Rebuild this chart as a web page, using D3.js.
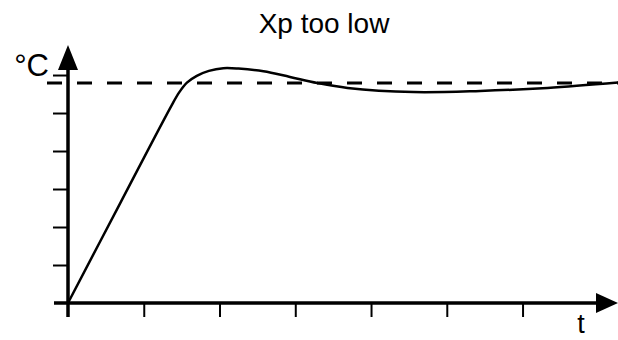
<!DOCTYPE html>
<html>
<head>
<meta charset="utf-8">
<script src="https://d3js.org/d3.v7.min.js"></script>
<style>
body{margin:0;background:#fff;}
text{font-family:Arial,"Liberation Sans",sans-serif;fill:#000;}
</style>
</head>
<body>
<svg></svg>
<script>
// response curve, t in tick units, temperature in tick units
var times = [0,0.70,1.37,1.47,1.57,1.70,1.86,2.05,2.25,2.58,2.93,3.29,3.69,4.56,5.44,6.33,7.26]
var temps = [0,2.67,5.21,5.55,5.80,5.98,6.11,6.18,6.17,6.10,5.95,5.79,5.66,5.55,5.58,5.66,5.80]
var setpoint = 5.79
var xTicks = [1,2,3,4,5,6]
var yTicks = [1,2,3,4,5,6]
var title = "Xp too low"
var yLabel = "°C"
var xLabel = "t"

var screen = {width:618,height:340}

var svg = d3.select("svg")
.attr("width",screen.width)
.attr("height",screen.height)

var xScale = d3.scaleLinear()
.domain([0,7.26])
.range([68,618])

var yScale = d3.scaleLinear()
.domain([0,6.79])
.range([303,45])

var drawAxes = function()
{
    svg.append("g")
    .attr("transform","translate(0,"+yScale(0)+")")
    .call(d3.axisBottom(xScale).tickValues(xTicks).tickSize(14).tickFormat(""))
    .call(function(g){g.select(".domain").remove()})
    .selectAll("line")
    .attr("stroke","#000")
    .attr("stroke-width",2)

    svg.append("g")
    .attr("transform","translate("+xScale(0)+",0)")
    .call(d3.axisLeft(yScale).tickValues(yTicks).tickSize(15).tickFormat(""))
    .call(function(g){g.select(".domain").remove()})
    .selectAll("line")
    .attr("stroke","#000")
    .attr("stroke-width",2)

    // main axis lines
    svg.append("line")
    .attr("x1",54).attr("x2",598)
    .attr("y1",yScale(0)).attr("y2",yScale(0))
    .attr("stroke","#000").attr("stroke-width",3.5)

    svg.append("line")
    .attr("x1",xScale(0)).attr("x2",xScale(0))
    .attr("y1",317).attr("y2",68)
    .attr("stroke","#000").attr("stroke-width",3.5)

    // arrow heads
    var x0 = xScale(0), y0 = yScale(0)
    svg.append("path")
    .attr("d","M"+(x0-10)+",70 L"+x0+",45 L"+(x0+10)+",70 Z")
    .attr("fill","#000")
    svg.append("path")
    .attr("d","M596,"+(y0-10)+" L618,"+y0+" L596,"+(y0+10)+" Z")
    .attr("fill","#000")
}

var drawSetpoint = function()
{
    svg.append("line")
    .attr("x1",47).attr("x2",618)
    .attr("y1",yScale(setpoint)).attr("y2",yScale(setpoint))
    .attr("stroke","#000")
    .attr("stroke-width",3)
    .attr("stroke-dasharray","15,15")
}

var drawCurve = function()
{
    var pts = times.map(function(t,i){return [t,temps[i]]})
    var line = d3.line()
    .x(function(d){return xScale(d[0])})
    .y(function(d){return yScale(d[1])})
    .curve(d3.curveCatmullRom.alpha(0.5))

    svg.append("path")
    .datum(pts)
    .attr("d",line)
    .attr("fill","none")
    .attr("stroke","#000")
    .attr("stroke-width",2.5)
}

var drawLabels = function()
{
    svg.append("text")
    .attr("x",324).attr("y",33)
    .attr("text-anchor","middle")
    .attr("font-size",28)
    .text(title)

    svg.append("text")
    .attr("x",49).attr("y",76)
    .attr("text-anchor","end")
    .attr("font-size",31)
    .text(yLabel)

    svg.append("text")
    .attr("x",581).attr("y",333)
    .attr("text-anchor","middle")
    .attr("font-size",27)
    .text(xLabel)
}

drawSetpoint()
drawCurve()
drawAxes()
drawLabels()
</script>
</body>
</html>
